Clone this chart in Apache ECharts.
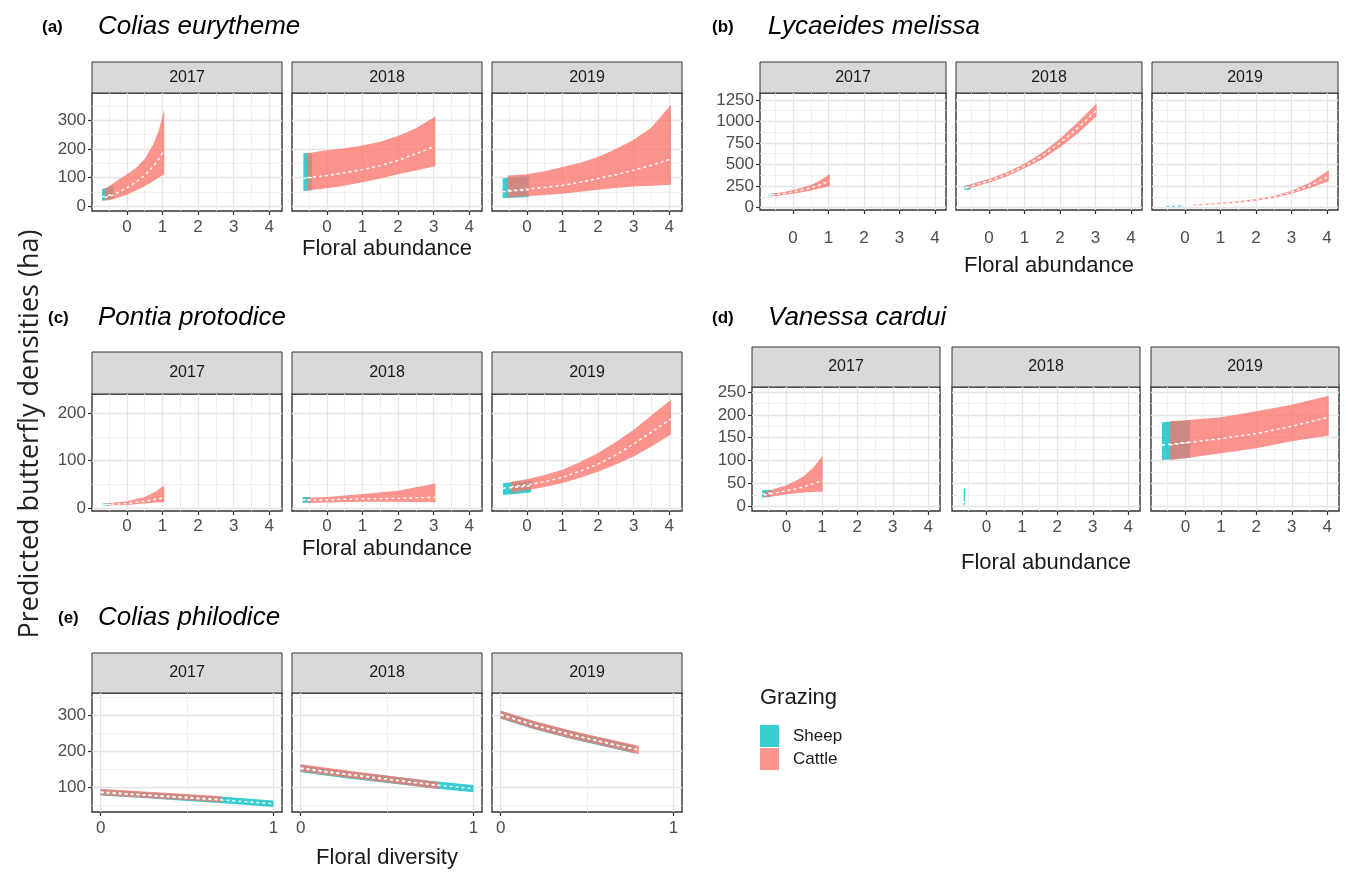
<!DOCTYPE html>
<html>
<head>
<meta charset="utf-8">
<script src="https://cdn.jsdelivr.net/npm/echarts@6/dist/echarts.min.js"></script>
<style>
  html, body { margin: 0; padding: 0; background: #fff; }
  #chart { width: 1348px; height: 876px; }
</style>
</head>
<body>
<div id="chart"></div>
<script>
// ---------- labels and tick values ----------
const years = ['2017', '2018', '2019'];
const grazingLevels = ['Sheep', 'Cattle'];
const yTitle = 'Predicted butterfly densities (ha)';
const abundanceTicks = [0, 1, 2, 3, 4];
const diversityTicks = [0, 1];
const euryYTicks = [0, 100, 200, 300];
const melissaYTicks = [0, 250, 500, 750, 1000, 1250];
const protodiceYTicks = [0, 100, 200];
const carduiYTicks = [0, 50, 100, 150, 200, 250];
const philodiceYTicks = [100, 200, 300];

// ---------- model predictions: rows of [x, lower, fit, upper] ----------
// (a) Colias eurytheme
const eurytheme2017Sheep = [[-0.70, 19, 33, 60], [-0.38, 26, 42, 72]];
const eurytheme2017Cattle = [[-0.62, 19, 30, 60], [-0.38, 25, 40, 80], [0, 40, 64, 112], [0.25, 55, 84, 133], [0.5, 70, 108, 165], [0.75, 88, 140, 218], [0.9, 100, 165, 265], [1.05, 112, 197, 337]];
const eurytheme2018Sheep = [[-0.66, 53, 98, 185], [-0.42, 56, 100, 186]];
const eurytheme2018Cattle = [[-0.56, 55, 100, 185], [0, 63, 107, 195], [0.5, 72, 117, 202], [1, 84, 128, 212], [1.5, 97, 142, 225], [2, 112, 160, 245], [2.5, 125, 183, 272], [3.05, 140, 210, 313]];
const eurytheme2019Sheep = [[-0.68, 28, 51, 98], [0.05, 32, 57, 106]];
const eurytheme2019Cattle = [[-0.54, 31, 55, 107], [0, 35, 60, 112], [0.5, 39, 66, 122], [1, 44, 73, 137], [1.5, 51, 84, 152], [2, 58, 97, 172], [2.5, 64, 110, 200], [3, 69, 126, 232], [3.5, 72, 143, 275], [4.05, 75, 165, 354]];
// (b) Lycaeides melissa
const melissa2017Sheep = [[-0.70, 132, 145, 158], [-0.50, 138, 150, 165]];
const melissa2017Cattle = [[-0.62, 128, 145, 160], [-0.25, 145, 163, 180], [0, 160, 182, 203], [0.25, 178, 203, 230], [0.5, 198, 228, 262], [0.75, 220, 262, 312], [1.04, 250, 310, 390]];
const melissa2018Sheep = [[-0.70, 205, 228, 250], [-0.50, 210, 233, 258]];
const melissa2018Cattle = [[-0.65, 210, 232, 255], [0, 290, 310, 330], [0.5, 360, 385, 410], [1, 455, 482, 510], [1.5, 560, 600, 640], [2, 700, 750, 800], [2.5, 860, 925, 990], [3.03, 1060, 1130, 1210]];
const melissa2019Sheep = [[-0.62, 8, 13, 18], [-0.05, 12, 17, 22]];
const melissa2019Cattle = [[0.15, 20, 26, 32], [0.5, 30, 36, 42], [1, 40, 47, 55], [1.5, 55, 63, 72], [2, 78, 88, 98], [2.5, 110, 122, 135], [3, 160, 177, 195], [3.5, 225, 253, 285], [4.05, 305, 362, 430]];
// (c) Pontia protodice
const protodice2017Sheep = [[-0.68, 5, 7, 10], [-0.45, 6, 8, 11]];
const protodice2017Cattle = [[-0.60, 6, 8, 10], [0, 7, 10, 15], [0.5, 10, 15, 24], [0.8, 12, 19, 35], [1.05, 13, 22, 48]];
const protodice2018Sheep = [[-0.68, 11, 18, 24], [-0.45, 12, 18, 24]];
const protodice2018Cattle = [[-0.55, 11, 17, 22], [0, 12.5, 18, 24], [1, 14, 20, 30], [2, 14, 21, 37], [2.5, 13.5, 22, 44], [3.05, 13, 23, 52]];
const protodice2019Sheep = [[-0.67, 28, 42, 53], [0.12, 33, 47, 58]];
const protodice2019Cattle = [[-0.45, 33, 45, 56], [0, 38, 49, 61], [0.5, 45, 56, 70], [1, 53, 65, 81], [1.5, 64, 78, 97], [2, 77, 93, 116], [2.5, 92, 112, 139], [3, 109, 135, 165], [3.5, 130, 160, 195], [4.05, 155, 188, 228]];
// (d) Vanessa cardui
const cardui2017Sheep = [[-0.69, 19, 27, 35], [-0.42, 21, 29, 36]];
const cardui2017Cattle = [[-0.63, 19, 24, 30], [-0.25, 23, 30, 40], [0, 26, 34, 46], [0.25, 28, 38, 55], [0.5, 30, 43, 66], [0.75, 31, 49, 84], [1.02, 32, 57, 110]];
const cardui2018Sheep = [[-0.64, 2, 8, 38], [-0.60, 4, 10, 40]];
const cardui2018Cattle = [];
const cardui2019Sheep = [[-0.66, 101, 134, 184], [0.14, 106, 140, 188]];
const cardui2019Cattle = [[-0.44, 101, 134, 186], [0, 105, 139, 188], [1, 116, 148, 195], [2, 127, 159, 208], [3, 142, 175, 222], [4.04, 155, 195, 242]];
// (e) Colias philodice
const philodice2017Sheep = [[0, 77, 85, 94], [0.25, 70, 78, 87], [0.5, 62, 70, 79], [0.75, 54, 63, 72], [1, 45, 54, 63]];
const philodice2017Cattle = [[0, 78, 87, 96], [0.25, 71, 79, 88], [0.5, 64, 72, 81], [0.7, 58, 66, 75]];
const philodice2018Sheep = [[0, 142, 152, 162], [0.25, 126, 136, 146], [0.5, 112, 122, 132], [0.75, 98, 108, 118], [1, 86, 96, 106]];
const philodice2018Cattle = [[0, 144, 154, 164], [0.25, 128, 138, 148], [0.5, 113, 123, 133], [0.8, 95, 105, 115]];
const philodice2019Sheep = [[0, 291, 302, 313], [0.2, 261, 272, 283], [0.4, 236, 247, 258], [0.6, 214, 225, 236], [0.78, 194, 205, 216]];
const philodice2019Cattle = [[0, 292, 303, 314], [0.2, 262, 273, 284], [0.4, 237, 248, 259], [0.6, 215, 226, 237], [0.8, 192, 204, 216]];

// ---------- figure layout ----------
const FONT = "'Liberation Sans', Arial, sans-serif";
const SHEEP = 'rgba(0,191,196,0.78)';
const CATTLE = 'rgba(248,118,109,0.78)';

const blocks = [
  { tag: '(a)', species: 'Colias eurytheme', tagX: 42, nameX: 98, titleY: 27,
    lefts: [92, 292, 492], width: 190, stripTop: 62, top: 93, bottom: 211,
    x: [-0.98, 4.36], xStep: 1, xTicks: abundanceTicks, y: [-16.4, 395], yStep: 100, yTicks: euryYTicks,
    xName: 'Floral abundance', labelMargin: 8, nameGap: 27,
    data: [[eurytheme2017Sheep, eurytheme2017Cattle], [eurytheme2018Sheep, eurytheme2018Cattle], [eurytheme2019Sheep, eurytheme2019Cattle]] },
  { tag: '(b)', species: 'Lycaeides melissa', tagX: 712, nameX: 768, titleY: 27,
    lefts: [760, 956, 1152], width: 186, stripTop: 62, top: 93, bottom: 210,
    x: [-0.93, 4.31], xStep: 1, xTicks: abundanceTicks, y: [-29, 1331], yStep: 250, yTicks: melissaYTicks,
    xName: 'Floral abundance', labelMargin: 20, nameGap: 45,
    data: [[melissa2017Sheep, melissa2017Cattle], [melissa2018Sheep, melissa2018Cattle], [melissa2019Sheep, melissa2019Cattle]] },
  { tag: '(c)', species: 'Pontia protodice', tagX: 48, nameX: 98, titleY: 318,
    lefts: [92, 292, 492], width: 190, stripTop: 352, top: 394, bottom: 511,
    x: [-0.98, 4.36], xStep: 1, xTicks: abundanceTicks, y: [-5.6, 240], yStep: 100, yTicks: protodiceYTicks,
    xName: 'Floral abundance', labelMargin: 7, nameGap: 27,
    data: [[protodice2017Sheep, protodice2017Cattle], [protodice2018Sheep, protodice2018Cattle], [protodice2019Sheep, protodice2019Cattle]] },
  { tag: '(d)', species: 'Vanessa cardui', tagX: 712, nameX: 768, titleY: 318,
    lefts: [752, 952, 1151], width: 188, stripTop: 347, top: 387, bottom: 511,
    x: [-0.97, 4.33], xStep: 1, xTicks: abundanceTicks, y: [-10.4, 261], yStep: 50, yTicks: carduiYTicks,
    xName: 'Floral abundance', labelMargin: 8, nameGap: 41,
    data: [[cardui2017Sheep, cardui2017Cattle], [cardui2018Sheep, cardui2018Cattle], [cardui2019Sheep, cardui2019Cattle]] },
  { tag: '(e)', species: 'Colias philodice', tagX: 58, nameX: 98, titleY: 618,
    lefts: [92, 292, 492], width: 190, stripTop: 653, top: 693, bottom: 812,
    x: [-0.05, 1.05], xStep: 1, xTicks: diversityTicks, y: [31, 363], yStep: 100, yTicks: philodiceYTicks,
    xName: 'Floral diversity', labelMargin: 8, nameGap: 35,
    data: [[philodice2017Sheep, philodice2017Cattle], [philodice2018Sheep, philodice2018Cattle], [philodice2019Sheep, philodice2019Cattle]] }
];

const grid = [], xAxis = [], yAxis = [], series = [], graphic = [];

function ribbon(rows, gi, color, name) {
  return {
    type: 'custom', name: name, coordinateSystem: 'cartesian2d',
    xAxisIndex: gi, yAxisIndex: gi, silent: true, animation: false,
    itemStyle: { color: color },
    data: rows.length ? [[rows[0][0], rows[0][1]]] : [],
    renderItem: function (params, api) {
      const upper = rows.map(r => api.coord([r[0], r[3]]));
      const lower = rows.slice().reverse().map(r => api.coord([r[0], r[1]]));
      return { type: 'polygon', shape: { points: upper.concat(lower) }, style: { fill: color } };
    }
  };
}

function fitLine(rows, gi) {
  return {
    type: 'line', name: 'fit', xAxisIndex: gi, yAxisIndex: gi, silent: true, animation: false,
    data: rows.map(r => [r[0], r[2]]), symbol: 'none', z: 4,
    lineStyle: { color: '#ffffff', width: 1.4, type: [3, 3] }
  };
}

const plain = v => String(v);
const MAJOR = { color: '#E4E4E4', width: 1.3 };
const MINOR = { color: '#EEEEEE', width: 0.9 };

blocks.forEach(function (b) {
  // panel title
  graphic.push({ type: 'text', x: b.tagX, y: b.titleY, style: { text: b.tag, font: "bold 17px " + FONT, fill: '#000', verticalAlign: 'middle' } });
  graphic.push({ type: 'text', x: b.nameX, y: b.titleY, style: { text: b.species, font: "italic 26px " + FONT, fill: '#000', verticalAlign: 'middle' } });

  years.forEach(function (yr, k) {
    const gi = grid.length;
    grid.push({ left: b.lefts[k], top: b.top, width: b.width, height: b.bottom - b.top, show: true,
      backgroundColor: '#fff', borderColor: '#333', borderWidth: 1.4, outerBoundsMode: 'none', containLabel: false });
    // facet strip
    graphic.push({ type: 'rect', shape: { x: b.lefts[k], y: b.stripTop, width: b.width, height: b.top - b.stripTop },
      style: { fill: '#D9D9D9', stroke: '#333', lineWidth: 1 } });
    graphic.push({ type: 'text', x: b.lefts[k] + b.width / 2, y: (b.stripTop + b.top) / 2,
      style: { text: yr, font: '16px ' + FONT, fill: '#1a1a1a', align: 'center', verticalAlign: 'middle' } });

    xAxis.push({
      type: 'value', gridIndex: gi, min: b.x[0], max: b.x[1], position: 'bottom',
      minInterval: b.xStep, maxInterval: b.xStep,
      axisLine: { show: false, onZero: false },
      axisTick: { show: true, length: 4, customValues: b.xTicks, lineStyle: { color: '#333', width: 1.2 } },
      axisLabel: { show: true, customValues: b.xTicks, margin: b.labelMargin, fontSize: 17, fontFamily: FONT, color: '#4D4D4D', formatter: plain },
      splitLine: { show: true, lineStyle: MAJOR },
      minorTick: { show: false, splitNumber: 2 },
      minorSplitLine: { show: true, lineStyle: MINOR },
      name: k === 1 ? b.xName : '', nameLocation: 'middle', nameGap: b.nameGap,
      nameTextStyle: { fontSize: 22, fontFamily: FONT, color: '#1a1a1a' }
    });
    yAxis.push({
      type: 'value', gridIndex: gi, min: b.y[0], max: b.y[1], position: 'left',
      minInterval: b.yStep, maxInterval: b.yStep,
      axisLine: { show: false, onZero: false },
      axisTick: { show: k === 0, length: 4, customValues: b.yTicks, lineStyle: { color: '#333', width: 1.2 } },
      axisLabel: { show: k === 0, customValues: b.yTicks, margin: 6, fontSize: 17, fontFamily: FONT, color: '#4D4D4D', formatter: plain },
      splitLine: { show: true, lineStyle: MAJOR },
      minorTick: { show: false, splitNumber: 2 },
      minorSplitLine: { show: true, lineStyle: MINOR }
    });

    const pair = b.data[k];
    series.push(ribbon(pair[0], gi, SHEEP, 'Sheep'));
    if (pair[1].length) series.push(ribbon(pair[1], gi, CATTLE, 'Cattle'));
    series.push(fitLine(pair[0], gi));
    if (pair[1].length) series.push(fitLine(pair[1], gi));
  });
});

// shared y-axis title
graphic.push({ type: 'text', x: 30, y: 434, rotation: Math.PI / 2,
  style: { text: yTitle, font: "27px 'Open Sans', Roboto, sans-serif", fill: '#222', align: 'center', verticalAlign: 'middle' } });
// legend title
graphic.push({ type: 'text', x: 760, y: 698, style: { text: 'Grazing', font: '22px ' + FONT, fill: '#1a1a1a', verticalAlign: 'middle' } });

const chart = echarts.init(document.getElementById('chart'), null, { renderer: 'canvas' });
chart.setOption({
  animation: false,
  backgroundColor: '#fff',
  grid: grid, xAxis: xAxis, yAxis: yAxis, series: series, graphic: graphic,
  legend: {
    data: grazingLevels, orient: 'vertical', left: 760, top: 725, padding: 0, icon: 'rect',
    itemWidth: 19, itemHeight: 22, itemGap: 1, selectedMode: false,
    textStyle: { fontSize: 17, fontFamily: FONT, color: '#1a1a1a', padding: [0, 0, 0, 9] }
  }
});
</script>
</body>
</html>
